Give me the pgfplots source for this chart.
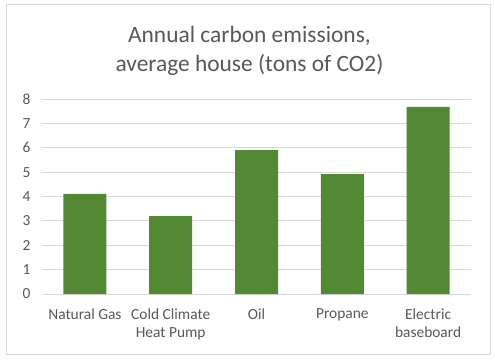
\documentclass[border=0pt]{standalone}
\usepackage{pgfplots}
\pgfplotsset{compat=1.18}
\usepackage{fontspec}
\setmainfont{Carlito}
\definecolor{bargreen}{HTML}{538933}
\definecolor{txtgrey}{HTML}{595959}
\definecolor{gridgrey}{HTML}{D9D9D9}
\begin{document}
\begin{tikzpicture}[x=1bp,y=1bp]
\fill[white] (0,0) rectangle (495,360);
\draw[gridgrey, line width=1bp] (6,6) rectangle (490,355);
\node[font=\fontsize{23.5}{28}\selectfont, text=txtgrey, anchor=base] at (249.5,318) {Annual carbon emissions,};
\node[font=\fontsize{23.5}{28}\selectfont, text=txtgrey, anchor=base] at (249.5,289) {average house (tons of CO2)};
\begin{axis}[
  at={(42bp,66bp)}, anchor=south west,
  scale only axis, width=429bp, height=195bp,
  xmin=-0.5, xmax=4.5, ymin=0, ymax=8,
  ytick={0,1,...,8},
  xtick=data,
  xticklabels={Natural Gas,{Cold Climate\\Heat Pump},Oil,Propane,{Electric\\baseboard}},
  axis x line*=bottom,
  axis y line*=left,
  y axis line style={draw=none},
  x axis line style={gridgrey, line width=0.8bp},
  ymajorgrids,
  grid style={gridgrey, line width=0.8bp},
  major tick length=0pt,
  tick label style={font=\fontsize{15.5}{18}\selectfont, text=txtgrey},
  xticklabel style={align=center, yshift=-11bp},
  yticklabel style={xshift=-8bp},
  ytick style={draw=none}, xtick style={draw=none},
  /pgf/number format/assume math mode=true,
  ybar, bar width=43bp,
]
\addplot[fill=bargreen, draw=none] coordinates {(0,4.11) (1,3.2) (2,5.9) (3,4.92) (4,7.68)};
\end{axis}
\end{tikzpicture}
\end{document}
